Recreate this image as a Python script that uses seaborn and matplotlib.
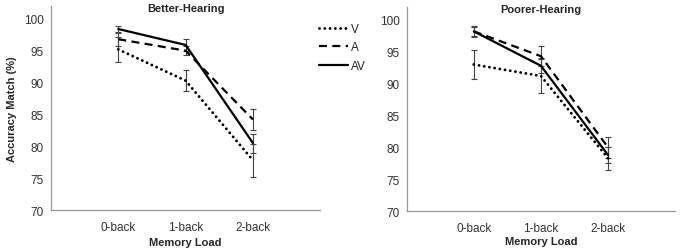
# import libraries
import numpy as np
import pandas as pd
import matplotlib
matplotlib.use("Agg")
import matplotlib.pyplot as plt
import seaborn as sns


# data
loads = ["0-back", "1-back", "2-back"]
conditions = ["V", "A", "AV"]

better_v = [95.2, 90.3, 77.8]
better_a = [96.8, 95.0, 84.2]
better_av = [98.4, 95.9, 80.5]
better_v_err = [1.9, 1.7, 2.6]
better_a_err = [1.0, 0.7, 1.6]
better_av_err = [0.5, 1.0, 1.5]

poorer_v = [93.0, 91.2, 78.3]
poorer_a = [98.2, 94.3, 80.0]
poorer_av = [98.2, 92.8, 78.8]
poorer_v_err = [2.3, 2.7, 1.8]
poorer_a_err = [0.9, 1.6, 1.7]
poorer_av_err = [0.7, 1.2, 1.3]


# style
sns.set_style("white")
plt.rcParams["font.family"] = ["Liberation Sans", "DejaVu Sans"]

styles = {
    "V": dict(linestyle=(0, (0.01, 1.8)), linewidth=2.1, dash_capstyle="round"),
    "A": dict(linestyle=(0, (3.6, 2.4)), linewidth=1.6),
    "AV": dict(linestyle="-", linewidth=1.6),
}


def make_frame(v, a, av, v_err, a_err, av_err):
    rows = []
    for cond, vals, errs in [("V", v, v_err), ("A", a, a_err), ("AV", av, av_err)]:
        for i, load in enumerate(loads):
            rows.append({"pos": i, "load": load, "cond": cond,
                         "acc": vals[i], "err": errs[i]})
    return pd.DataFrame(rows)


df_better = make_frame(better_v, better_a, better_av,
                       better_v_err, better_a_err, better_av_err)
df_poorer = make_frame(poorer_v, poorer_a, poorer_av,
                       poorer_v_err, poorer_a_err, poorer_av_err)


fig = plt.figure(figsize=(6.8, 2.53), dpi=100)
ax1 = fig.add_axes([0.075, 0.166, 0.396, 0.806])
ax2 = fig.add_axes([0.598, 0.161, 0.395, 0.807])


def draw_panel(ax, df, title):
    for cond in conditions:
        sub = df[df["cond"] == cond]
        ax.errorbar(sub["pos"], sub["acc"], yerr=sub["err"], fmt="none",
                    ecolor="#444444", elinewidth=0.8, capsize=2.2,
                    capthick=0.8, zorder=2)
    for cond in conditions:
        sub = df[df["cond"] == cond]
        sns.lineplot(data=sub, x="pos", y="acc", ax=ax, color="black",
                     label=cond, zorder=3, **styles[cond])

    ax.set_xlim(-1, 3)
    ax.set_ylim(70, 102)
    ax.set_yticks([70, 75, 80, 85, 90, 95, 100])
    ax.set_xticks([-1, 0, 1, 2, 3])
    ax.set_xticklabels([""] + loads + [""])
    ax.set_title(title, fontsize=8, fontweight="bold", pad=0, y=0.975)
    ax.set_xlabel("Memory Load", fontsize=8, fontweight="bold", labelpad=3)
    ax.set_ylabel("")

    for side in ["top", "right"]:
        ax.spines[side].set_visible(False)
    for side in ["left", "bottom"]:
        ax.spines[side].set_color("#999999")
        ax.spines[side].set_linewidth(0.9)
    ax.tick_params(axis="both", direction="out", length=3, width=0.8,
                   color="#999999", labelsize=8.5, labelcolor="#333333", pad=2)
    ax.tick_params(axis="x", pad=5)
    ax.legend_.remove()


draw_panel(ax1, df_better, "Better-Hearing")
draw_panel(ax2, df_poorer, "Poorer-Hearing")
ax2.xaxis.labelpad = 1

ax1.set_ylabel("Accuracy Match (%)", fontsize=8, fontweight="bold", labelpad=5)


# legend between the panels
handles, labels = ax1.get_legend_handles_labels()
fig.legend(handles, labels, loc="upper left", bbox_to_anchor=(0.462, 0.925),
           frameon=False, fontsize=8.5, handlelength=2.5, handletextpad=0.2,
           labelspacing=0.55, borderaxespad=0)

plt.savefig("out.png", dpi=100)
